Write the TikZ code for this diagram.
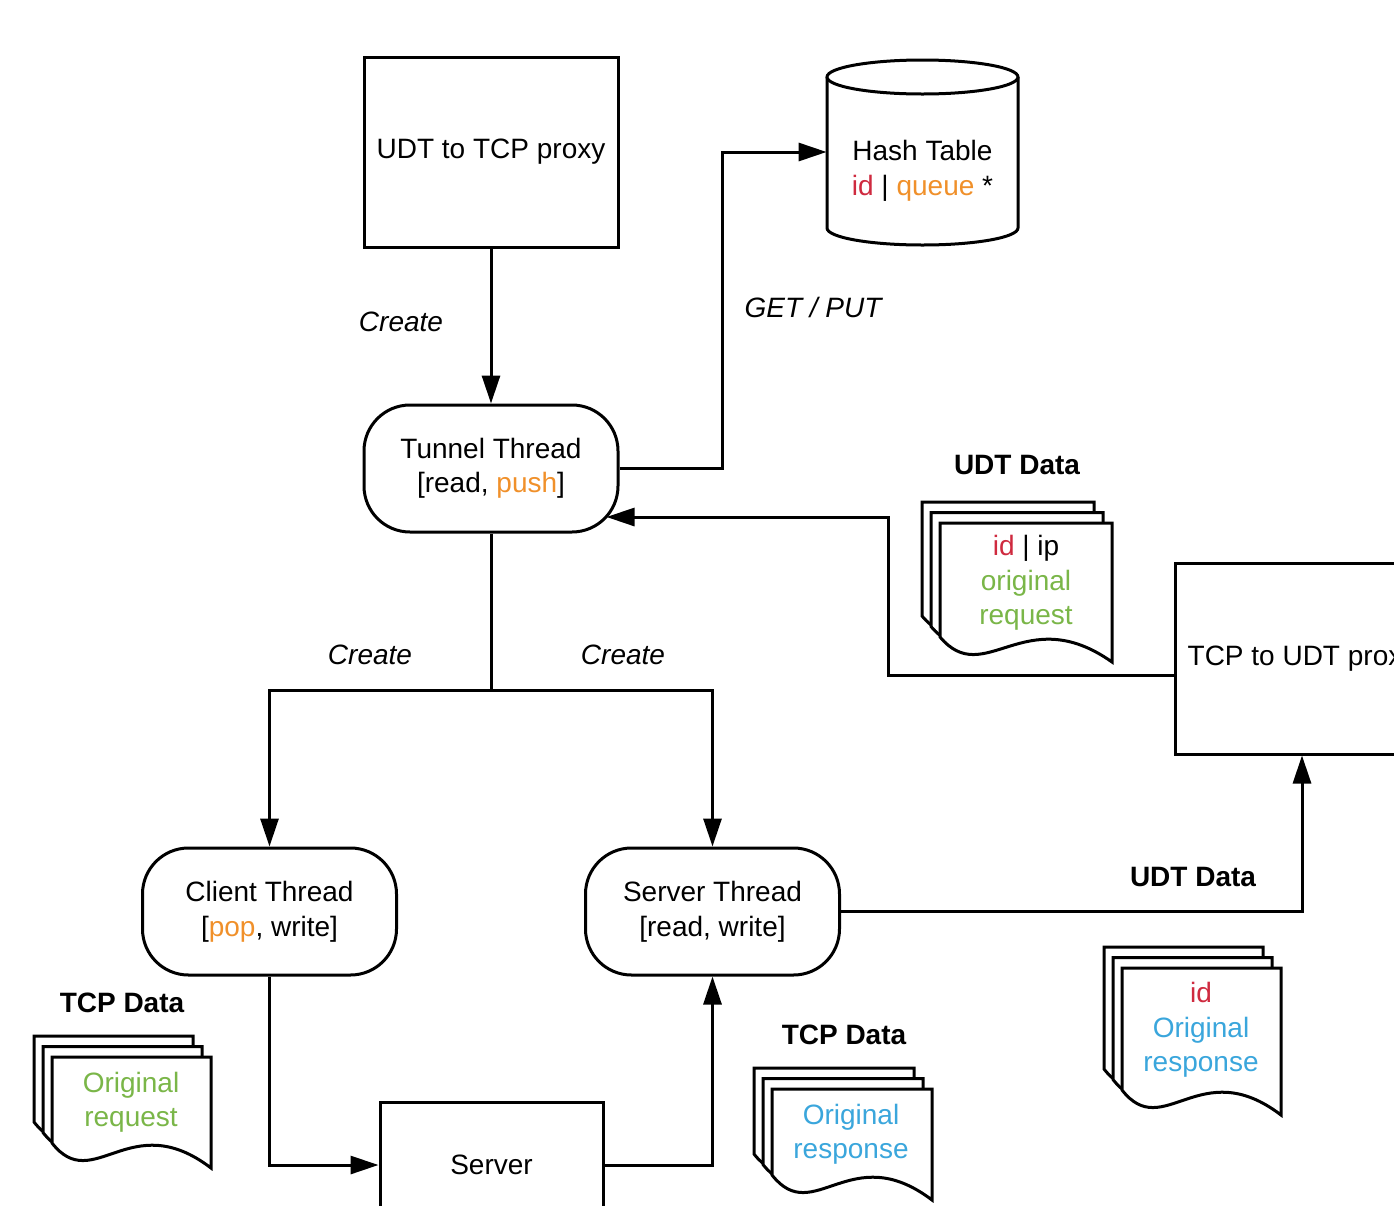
\documentclass[tikz,border=0pt]{standalone}
\usepackage{fontspec}
\setmainfont{Liberation Sans}
\usetikzlibrary{arrows.meta}
\definecolor{cred}{HTML}{CF2A3F}
\definecolor{corange}{HTML}{F0902A}
\definecolor{cgreen}{HTML}{7AB648}
\definecolor{cblue}{HTML}{3AA6DC}

\tikzset{
  txt/.style={font=\fontsize{14}{17.25}\selectfont, align=center, inner sep=0pt},
  box/.style={txt, draw, line width=1.5pt, rectangle},
  thread/.style={box, rounded corners=23pt, minimum width=127pt, minimum height=63.5pt},
  conn/.style={line width=1.5pt},
  arr/.style={conn, -{Triangle[length=14pt,width=9pt]}},
  lbl/.style={font=\fontsize{14}{17}\selectfont\itshape, inner sep=0pt},
  head/.style={font=\fontsize{14}{17}\selectfont\bfseries, inner sep=0pt},
  sheet/.style={draw, fill=white, line width=1.5pt}
}

% stack of three paper sheets with a wavy lower edge:
% #1,#2 = top-left corner of the front sheet, #3 = width, #4 = left edge height
\newcommand\docstack[4]{%
  \foreach \ofx/\ofy in {-18/-21, -9/-10.5, 0/0} {
    \draw[sheet] ({#1+\ofx},{#2+\ofy}) -- ({#1+\ofx+#3},{#2+\ofy})
      -- ({#1+\ofx+#3},{#2+\ofy+#4+25})
      .. controls ({#1+\ofx+0.49*#3},{#2+\ofy+#4-37}) and ({#1+\ofx+0.26*#3},{#2+\ofy+#4+53})
      .. ({#1+\ofx},{#2+\ofy+#4}) -- cycle;
  }%
}

\begin{document}
\begin{tikzpicture}[x=0.5pt,y=-0.5pt]
\clip (0,0) rectangle (1394,1206);

% database cylinder
\draw[conn, fill=white] (827,77) -- (827,228)
  arc[start angle=180, end angle=360, x radius=47.75pt, y radius=8.5pt] -- (1018,77);
\draw[conn, fill=white] (922.5,77) ellipse [x radius=47.75pt, y radius=8.5pt];

% main blocks
\node[box, minimum width=127pt, minimum height=95pt] (udtp) at (491,152) {UDT to TCP proxy};
\node[txt, minimum width=95.5pt] (hash) at (922.5,171)
  {Hash Table\\\textcolor{cred}{id} | \textcolor{corange}{queue} *};
\node[thread] (tunnel) at (491,468.5) {Tunnel Thread\\{}[read, \textcolor{corange}{push}]};
\node[thread] (client) at (269.5,911.5) {Client Thread\\{}[\textcolor{corange}{pop}, write]};
\node[thread] (servert) at (712.5,911.5) {Server Thread\\{}[read, write]};
\node[box, minimum width=127pt, minimum height=95.5pt] (tcpp) at (1302,658.5) {TCP to UDT proxy};
\node[box, minimum width=111.5pt, minimum height=63pt] (server) at (491.5,1165) {Server};

% data packets
\docstack{940}{523}{172}{114}
\docstack{52}{1057}{159}{86}
\docstack{772}{1089}{160}{86}
\docstack{1122}{968}{159}{122}

\node[txt] (d1) at (1026,583) {\textcolor{cred}{id} | ip\\\textcolor{cgreen}{original}\\\textcolor{cgreen}{request}};
\node[txt] (d2) at (131,1102) {\textcolor{cgreen}{Original}\\\textcolor{cgreen}{request}};
\node[txt] (d3) at (851,1134) {\textcolor{cblue}{Original}\\\textcolor{cblue}{response}};
\node[txt] (d4) at (1201,1030) {\textcolor{cred}{id}\\\textcolor{cblue}{Original}\\\textcolor{cblue}{response}};

% headings and edge labels
\node[head] (h1) at (1017,465) {UDT Data};
\node[head] (h2) at (1193,877) {UDT Data};
\node[head] (h3) at (122,1003) {TCP Data};
\node[head] (h4) at (844,1035) {TCP Data};
\node[lbl] (c1) at (401,322) {Create};
\node[lbl] (gp) at (813,307) {GET / PUT};
\node[lbl] (c2) at (370,655) {Create};
\node[lbl] (c3) at (623,655) {Create};

% routing points
\coordinate (xa) at (722,0);
\coordinate (xb) at (888,0);
\coordinate (split) at (491,690);
\coordinate (tin) at ([xshift=-6.5pt,yshift=-24.25pt]tunnel.east);

% connectors
\draw[arr] (udtp.south) -- (tunnel.north);
\draw[arr] (tunnel.east) -- (tunnel.east -| xa) |- ([yshift=9.5pt]hash.west);
\draw[arr] ([yshift=-8.25pt]tcpp.west) -| (xb |- tin) -- (tin);
\draw[conn] (tunnel.south) -- (split);
\draw[arr] (split) -| (client.north);
\draw[arr] (split) -| (servert.north);
\draw[arr] (client.south) |- (server.west);
\draw[arr] (server.east) -| (servert.south);
\draw[arr] (servert.east) -| (tcpp.south);
\end{tikzpicture}
\end{document}
